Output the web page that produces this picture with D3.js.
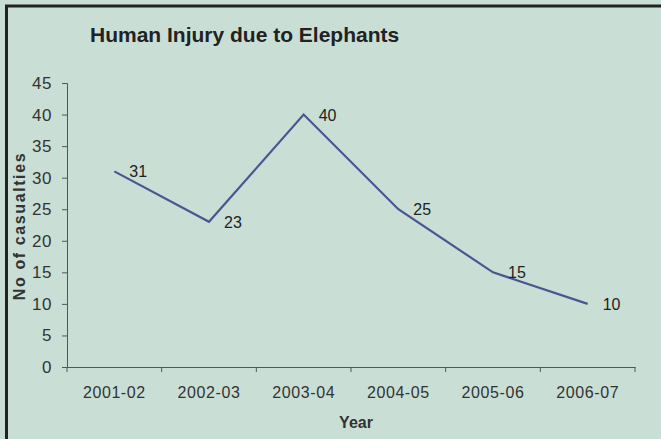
<!DOCTYPE html>
<html>
<head>
<meta charset="utf-8">
<script src="https://cdn.jsdelivr.net/npm/d3@7"></script>
<style>
  html, body { margin: 0; padding: 0; background: #c9dfd6; }
  svg { display: block; font-family: "Liberation Sans", Arial, sans-serif; }
  .tick text { fill: #333; }
  .tick line, .domain { stroke: #555; }
</style>
</head>
<body>
<div id="chart"></div>
<script>
// chart data
const years = ['2001-02', '2002-03', '2003-04', '2004-05', '2005-06', '2006-07'];
const casualties = [31, 23, 40, 25, 15, 10];
const yTicks = [0, 5, 10, 15, 20, 25, 30, 35, 40, 45];

const width = 661, height = 439;
const margin = {top: 83, right: 26, bottom: 72, left: 67};
const innerW = width - margin.left - margin.right;
const innerH = height - margin.top - margin.bottom;

const svg = d3.select('#chart').append('svg')
    .attr('width', width)
    .attr('height', height);

svg.append('rect')
    .attr('width', width).attr('height', height)
    .attr('fill', '#c9dfd6');

// frame (only left and top edges are visible in the cropped picture)
svg.append('path')
    .attr('d', `M6.5,${height} V6 H${width}`)
    .attr('fill', 'none')
    .attr('stroke', '#222')
    .attr('stroke-width', 3);

const g = svg.append('g')
    .attr('transform', `translate(${margin.left},${margin.top})`);

const x = d3.scaleBand().domain(years).range([0, innerW]);
const y = d3.scaleLinear().domain([0, 45]).range([innerH, 0]);

// axes
const xAxis = d3.axisBottom(x).tickSize(0).tickPadding(20);
const yAxis = d3.axisLeft(y).tickValues(yTicks).tickSize(5).tickPadding(10);

const xAxisG = g.append('g')
    .attr('transform', `translate(0,${innerH})`)
    .call(xAxis);

// tick marks between categories
xAxisG.selectAll('.band-tick')
    .data(d3.range(years.length + 1))
    .join('line')
    .attr('class', 'band-tick')
    .attr('x1', i => i * x.step()).attr('x2', i => i * x.step())
    .attr('y1', 0).attr('y2', 5)
    .attr('stroke', '#555');

const yAxisG = g.append('g').call(yAxis);

xAxisG.selectAll('.tick text').style('font-size', '16px').attr('letter-spacing', 0.6);
yAxisG.selectAll('.tick text').style('font-size', '17px').attr('letter-spacing', 0.5);

// series line
const line = d3.line()
    .x((d, i) => x(years[i]) + x.bandwidth() / 2)
    .y(d => y(d));

g.append('path')
    .datum(casualties)
    .attr('d', line)
    .attr('fill', 'none')
    .attr('stroke', '#4a5690')
    .attr('stroke-width', 2.2);

// value labels
g.selectAll('.val')
    .data(casualties)
    .join('text')
    .attr('class', 'val')
    .attr('x', (d, i) => x(years[i]) + x.bandwidth() / 2 + 15)
    .attr('y', d => y(d) + 6)
    .attr('font-size', 16)
    .attr('fill', '#222')
    .text(d => d);

// titles
svg.append('text')
    .attr('x', 90).attr('y', 42)
    .attr('font-size', 21)
    .attr('font-weight', 'bold')
    .attr('fill', '#222')
    .text('Human Injury due to Elephants');

svg.append('text')
    .attr('x', margin.left + innerW / 2 + 5)
    .attr('y', 428)
    .attr('text-anchor', 'middle')
    .attr('font-size', 16)
    .attr('font-weight', 'bold')
    .attr('fill', '#333')
    .text('Year');

svg.append('text')
    .attr('transform', 'translate(25,226) rotate(-90)')
    .attr('text-anchor', 'middle')
    .attr('font-size', 16)
    .attr('font-weight', 'bold')
    .attr('letter-spacing', 1.6)
    .attr('fill', '#333')
    .text('No of casualties');
</script>
</body>
</html>
